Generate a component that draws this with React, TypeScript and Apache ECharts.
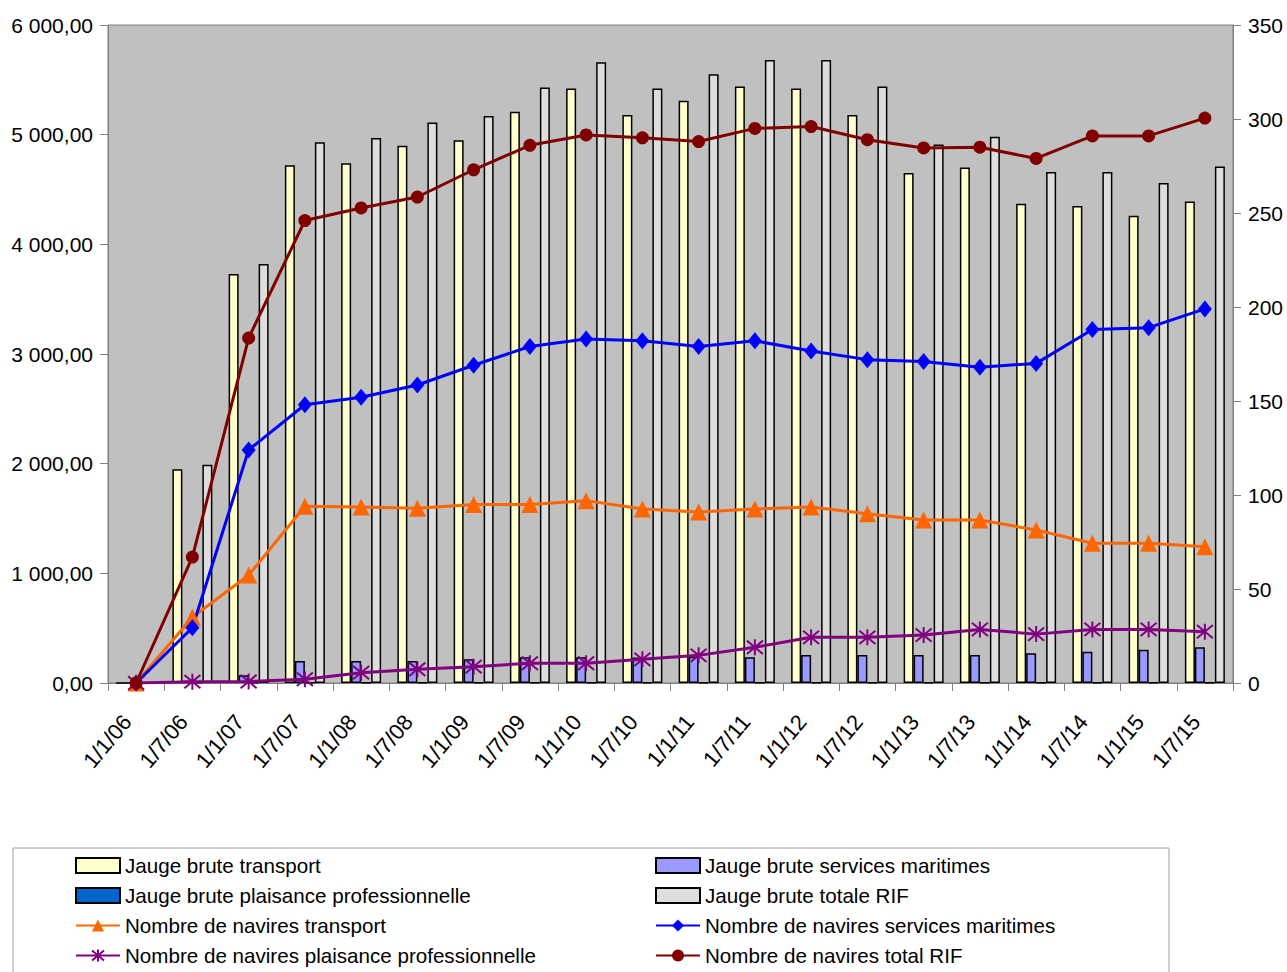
import React, { useEffect, useRef } from "react";
import * as echarts from "echarts";

const categories = [
  "1/1/06", "1/7/06", "1/1/07", "1/7/07", "1/1/08", "1/7/08", "1/1/09", "1/7/09", "1/1/10", "1/7/10",
  "1/1/11", "1/7/11", "1/1/12", "1/7/12", "1/1/13", "1/7/13", "1/1/14", "1/7/14", "1/1/15", "1/7/15",
];

const jaugeTransport = [0, 1950, 3730, 4720, 4740, 4900, 4950, 5210, 5420, 5180, 5310, 5440, 5420, 5180, 4650, 4700, 4370, 4350, 4260, 4390];
const jaugeServices = [0, 20, 70, 200, 200, 200, 216, 234, 234, 232, 240, 234, 255, 255, 255, 255, 271, 286, 304, 325];
const jaugePlaisance = [0, 3, 3, 3, 3, 3, 3, 3, 3, 3, 3, 3, 3, 3, 3, 3, 3, 3, 3, 3];
const jaugeTotale = [0, 1990, 3820, 4930, 4970, 5110, 5170, 5430, 5660, 5420, 5550, 5680, 5680, 5440, 4910, 4980, 4660, 4660, 4560, 4710];

const naviresTransport = [0, 35, 57.4, 94, 93.6, 93, 95, 95, 97, 92.6, 91, 92.5, 93.6, 90, 86.7, 86.7, 81.4, 74.3, 74.3, 72.5];
const naviresServices = [0, 29.4, 124, 148, 152, 158.5, 169, 179, 183, 182, 179, 182, 176.6, 172, 171, 168, 170, 188, 189, 199];
const naviresPlaisance = [0, 0.7, 0.8, 2, 5.5, 7.3, 8.7, 10.5, 10.5, 12.6, 14.7, 19, 24.3, 24.3, 25.5, 28.5, 26, 28.5, 28.5, 27.3];
const naviresTotal = [0, 67, 183.5, 246, 252.7, 258.5, 273, 286, 291.5, 290, 288, 295, 296, 289, 284.6, 285, 279, 291, 291, 300.5];

const leftTicks = { min: 0, max: 6000, interval: 1000 };
const rightTicks = { min: 0, max: 350, interval: 50 };

const NAMES = {
  jt: "Jauge brute transport",
  js: "Jauge brute services maritimes",
  jp: "Jauge brute plaisance professionnelle",
  jtot: "Jauge brute totale RIF",
  nt: "Nombre de navires transport",
  ns: "Nombre de navires services maritimes",
  np: "Nombre de navires plaisance professionnelle",
  ntot: "Nombre de navires total RIF",
};

const FONT = "'Liberation Sans', Arial, sans-serif";

function fmtLeft(v: number): string {
  const s = v.toFixed(2);
  const [i, d] = s.split(".");
  return i.replace(/\B(?=(\d{3})+(?!\d))/g, " ") + "," + d;
}

const asterisk = "path://M0,0L10,10M10,0L0,10M5,-1L5,11";

export default function App() {
  const ref = useRef<HTMLDivElement>(null);
  useEffect(() => {
    if (!ref.current) return;
    const chart = echarts.init(ref.current, null, { renderer: "svg" });
    const barBase = (name: string, data: number[], color: string) => ({
      name,
      type: "bar",
      data,
      yAxisIndex: 0,
      barWidth: 10,
      barGap: "0%",
      itemStyle: { color, borderColor: "#000", borderWidth: 1.5 },
    });
    const legendCommon = {
      orient: "vertical",
      padding: 0,
      itemWidth: 44,
      itemHeight: 15,
      itemGap: 9,
      textStyle: { fontFamily: FONT, fontSize: 20.6, color: "#000", lineHeight: 21 },
    };
    const barIcon = (name: string) => ({ name, icon: "rect" });
    chart.setOption({
      animation: false,
      backgroundColor: "#fff",
      textStyle: { fontFamily: FONT },
      grid: {
        left: 108,
        right: 54,
        top: 25,
        bottom: 289,
        show: true,
        backgroundColor: "#c0c0c0",
        borderColor: "#808080",
        borderWidth: 1,
      },
      legend: [
        {
          ...legendCommon,
          left: 75,
          top: 855,
          data: [barIcon(NAMES.jt), barIcon(NAMES.jp), NAMES.nt, NAMES.np],
        },
        {
          ...legendCommon,
          left: 655,
          top: 855,
          data: [barIcon(NAMES.js), barIcon(NAMES.jtot), NAMES.ns, NAMES.ntot],
        },
      ],
      graphic: [
        {
          type: "rect",
          shape: { x: 13, y: 848, width: 1156, height: 140 },
          style: { fill: "none", stroke: "#a0a0a0", lineWidth: 1 },
          silent: true,
        },
      ],
      xAxis: {
        type: "category",
        data: categories,
        boundaryGap: true,
        axisLine: { lineStyle: { color: "#808080", width: 1 } },
        axisTick: { show: true, length: 8, alignWithLabel: false, lineStyle: { color: "#808080" } },
        axisLabel: {
          rotate: 50,
          interval: 0,
          margin: 24,
          padding: [0, 14, 0, 0],
          fontSize: 22,
          color: "#000",
          fontFamily: FONT,
        },
        splitLine: { show: false },
      },
      yAxis: [
        {
          type: "value",
          ...leftTicks,
          position: "left",
          axisLine: { show: true, lineStyle: { color: "#808080" } },
          axisTick: { show: true, length: 8, lineStyle: { color: "#808080" } },
          axisLabel: { formatter: fmtLeft, fontSize: 21, color: "#000", margin: 15, fontFamily: FONT },
          splitLine: { show: false },
        },
        {
          type: "value",
          ...rightTicks,
          position: "right",
          axisLine: { show: true, lineStyle: { color: "#808080" } },
          axisTick: { show: true, length: 8, lineStyle: { color: "#808080" } },
          axisLabel: { fontSize: 21, color: "#000", margin: 15, fontFamily: FONT },
          splitLine: { show: false },
        },
      ],
      series: [
        barBase(NAMES.jt, jaugeTransport, "#ffffcc"),
        barBase(NAMES.js, jaugeServices, "#9999ff"),
        barBase(NAMES.jp, jaugePlaisance, "#0066cc"),
        barBase(NAMES.jtot, jaugeTotale, "#dddddd"),
        {
          name: NAMES.nt,
          type: "line",
          yAxisIndex: 1,
          data: naviresTransport,
          symbol: "triangle",
          symbolSize: 17,
          lineStyle: { color: "#ff6600", width: 3 },
          itemStyle: { color: "#ff6600" },
        },
        {
          name: NAMES.ns,
          type: "line",
          yAxisIndex: 1,
          data: naviresServices,
          symbol: "diamond",
          symbolSize: [14, 17],
          lineStyle: { color: "#0000ff", width: 3 },
          itemStyle: { color: "#0000ff" },
        },
        {
          name: NAMES.np,
          type: "line",
          yAxisIndex: 1,
          data: naviresPlaisance,
          symbol: asterisk,
          symbolSize: 16,
          lineStyle: { color: "#800080", width: 3 },
          itemStyle: { color: "#800080", borderColor: "#800080", borderWidth: 2 },
        },
        {
          name: NAMES.ntot,
          type: "line",
          yAxisIndex: 1,
          data: naviresTotal,
          symbol: "circle",
          symbolSize: 13,
          lineStyle: { color: "#800000", width: 3 },
          itemStyle: { color: "#800000" },
        },
      ],
    });
    return () => chart.dispose();
  }, []);
  return (
    <div
      ref={ref}
      style={{ position: "fixed", left: 0, top: 0, width: 1287, height: 972, background: "#fff" }}
    />
  );
}
